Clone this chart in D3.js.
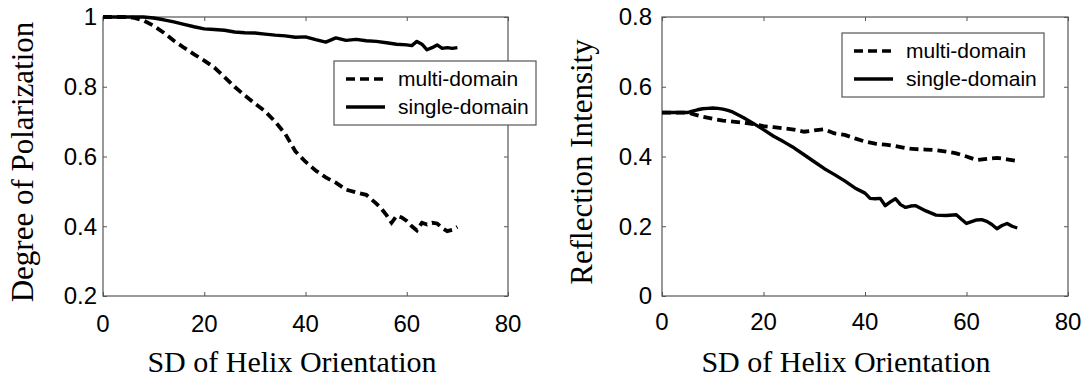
<!DOCTYPE html>
<html>
<head>
<meta charset="utf-8">
<script src="https://cdn.jsdelivr.net/npm/d3@7"></script>
<style>
  body { margin: 0; background: #fff; }
  svg { display: block; }
</style>
</head>
<body>
<div id="chart"></div>
<script>
// values

var xTicks = [0, 20, 40, 60, 80];
var seriesNames = ["multi-domain", "single-domain"];

// left panel: degree of polarization
var polYTicks = [0.2, 0.4, 0.6, 0.8, 1];
var polMultiX = [0, 2, 4, 6, 8, 10, 12, 14, 16, 18, 20, 22, 24, 26, 28, 30, 32, 34, 36, 38, 40, 42, 44, 46, 48, 50, 52, 54, 55, 56, 57, 58, 59, 60, 61, 62, 63, 64, 65, 66, 67, 68, 69, 70];
var polMultiY = [1, 1, 1, 0.998, 0.99, 0.975, 0.955, 0.932, 0.912, 0.893, 0.875, 0.855, 0.828, 0.8, 0.775, 0.752, 0.73, 0.7, 0.665, 0.615, 0.585, 0.56, 0.54, 0.525, 0.505, 0.497, 0.49, 0.465, 0.45, 0.432, 0.41, 0.43, 0.425, 0.415, 0.4, 0.388, 0.41, 0.405, 0.41, 0.408, 0.395, 0.386, 0.39, 0.398];
var polSingleX = [0, 2, 4, 6, 8, 10, 12, 14, 16, 18, 20, 22, 24, 26, 28, 30, 32, 34, 36, 38, 40, 42, 44, 46, 48, 50, 52, 54, 56, 58, 60, 61, 62, 63, 64, 65, 66, 67, 68, 69, 70];
var polSingleY = [1, 1, 1, 1, 1, 0.997, 0.992, 0.986, 0.979, 0.972, 0.966, 0.964, 0.962, 0.957, 0.955, 0.954, 0.951, 0.948, 0.946, 0.942, 0.943, 0.935, 0.928, 0.94, 0.933, 0.936, 0.932, 0.93, 0.926, 0.922, 0.92, 0.918, 0.93, 0.922, 0.906, 0.912, 0.92, 0.91, 0.912, 0.91, 0.912];

// right panel: reflection intensity
var refYTicks = [0, 0.2, 0.4, 0.6, 0.8];
var refMultiX = [0, 2, 4, 5, 6, 7, 8, 10, 12, 14, 16, 18, 20, 22, 24, 26, 28, 30, 32, 34, 36, 38, 40, 42, 44, 46, 48, 50, 52, 54, 56, 58, 60, 62, 64, 66, 68, 70];
var refMultiY = [0.526, 0.526, 0.526, 0.526, 0.522, 0.518, 0.514, 0.508, 0.503, 0.5, 0.497, 0.493, 0.487, 0.484, 0.481, 0.477, 0.471, 0.475, 0.478, 0.466, 0.462, 0.452, 0.443, 0.437, 0.434, 0.43, 0.424, 0.421, 0.42, 0.418, 0.414, 0.409, 0.4, 0.39, 0.393, 0.396, 0.392, 0.387];
var refSingleX = [0, 2, 4, 5, 6, 7, 8, 9, 10, 11, 12, 13, 14, 16, 18, 20, 22, 24, 26, 28, 30, 32, 34, 36, 38, 40, 41, 42, 43, 44, 45, 46, 47, 48, 49, 50, 52, 54, 56, 58, 59, 60, 61, 62, 63, 64, 65, 66, 67, 68, 69, 70];
var refSingleY = [0.526, 0.526, 0.526, 0.526, 0.53, 0.534, 0.537, 0.538, 0.539, 0.538, 0.536, 0.532, 0.527, 0.512, 0.495, 0.477, 0.458, 0.442, 0.425, 0.405, 0.385, 0.365, 0.348, 0.33, 0.31, 0.295, 0.28, 0.279, 0.28, 0.259, 0.27, 0.279, 0.262, 0.254, 0.258, 0.259, 0.244, 0.232, 0.231, 0.233, 0.22, 0.208, 0.213, 0.218, 0.219, 0.214, 0.205, 0.193, 0.202, 0.208, 0.2, 0.195];

var width = 1088,
    height = 381;

var svg = d3.select("#chart").append("svg")
    .attr("width", width)
    .attr("height", height);

var sansFont = "'Liberation Sans', Arial, sans-serif",
    serifFont = "'Liberation Serif', 'Times New Roman', serif",
    frameColor = "#555";

var dashStyle = "9,5";

function zip(xs, ys) {
    return xs.map(function(x, i) { return [x, ys[i]]; });
}

function drawPanel(p) {
    var x = d3.scaleLinear().domain([0, 80]).range([p.left, p.right]);
    var y = d3.scaleLinear().domain(p.yDomain).range([p.bottom, p.top]);

    var g = svg.append("g");

    // box frame
    g.append("rect")
        .attr("x", p.left)
        .attr("y", p.top)
        .attr("width", p.right - p.left)
        .attr("height", p.bottom - p.top)
        .style("fill", "none")
        .style("stroke", frameColor)
        .style("stroke-width", 1.2);

    // inward ticks on all four sides (matlab box style)
    var tickLen = 4;
    var axes = [
        d3.axisBottom(x).tickValues(xTicks).tickSize(-tickLen).tickFormat(""),
        d3.axisTop(x).tickValues(xTicks).tickSize(-tickLen).tickFormat(""),
        d3.axisLeft(y).tickValues(p.yTicks).tickSize(-tickLen).tickFormat(""),
        d3.axisRight(y).tickValues(p.yTicks).tickSize(-tickLen).tickFormat("")
    ];
    var offsets = [
        [0, p.bottom], [0, p.top], [p.left, 0], [p.right, 0]
    ];
    axes.forEach(function(ax, i) {
        var a = g.append("g")
            .attr("transform", "translate(" + offsets[i][0] + "," + offsets[i][1] + ")")
            .call(ax);
        a.select(".domain").remove();
        a.selectAll(".tick line").style("stroke", frameColor);
    });

    // tick labels
    g.selectAll(".xlab")
        .data(xTicks)
        .enter()
        .append("text")
        .attr("x", function(d) { return x(d); })
        .attr("y", p.bottom + p.xLabelDy)
        .style("text-anchor", "middle")
        .style("font", "24px " + sansFont)
        .text(function(d) { return d; });

    g.selectAll(".ylab")
        .data(p.yTicks)
        .enter()
        .append("text")
        .attr("x", p.left - p.yLabelGap)
        .attr("y", function(d) { return y(d); })
        .attr("dy", "0.35em")
        .style("text-anchor", "end")
        .style("font", "24px " + sansFont)
        .text(function(d) { return d; });

    // axis titles
    g.append("text")
        .attr("x", p.xTitleX)
        .attr("y", 372)
        .style("text-anchor", "middle")
        .style("font", "30px " + serifFont)
        .text("SD of Helix Orientation");

    g.append("text")
        .attr("transform", "translate(" + p.yTitleX + ",162) rotate(-90)")
        .style("text-anchor", "middle")
        .style("font", "31px " + serifFont)
        .text(p.yTitle);

    var line = d3.line()
        .x(function(d) { return x(d[0]); })
        .y(function(d) { return y(d[1]); });

    g.append("path")
        .datum(zip(p.singleX, p.singleY))
        .attr("d", line)
        .style("fill", "none")
        .style("stroke", "#000")
        .style("stroke-width", 3.4)
        .style("stroke-linejoin", "round");

    g.append("path")
        .datum(zip(p.multiX, p.multiY))
        .attr("d", line)
        .style("fill", "none")
        .style("stroke", "#000")
        .style("stroke-width", 3.8)
        .style("stroke-dasharray", dashStyle);

    // legend
    var lg = g.append("g")
        .attr("transform", "translate(" + p.legend[0] + "," + p.legend[1] + ")");
    lg.append("rect")
        .attr("width", 202)
        .attr("height", 64)
        .style("fill", "#fff")
        .style("stroke", frameColor)
        .style("stroke-width", 1.2);
    seriesNames.forEach(function(name, i) {
        var yy = 18 + i * 28;
        lg.append("line")
            .attr("x1", 12)
            .attr("x2", 51)
            .attr("y1", yy)
            .attr("y2", yy)
            .style("stroke", "#000")
            .style("stroke-width", 3.4)
            .style("stroke-dasharray", i === 0 ? dashStyle : null);
        lg.append("text")
            .attr("x", 64)
            .attr("y", yy)
            .attr("dy", "0.35em")
            .style("font", "21px " + sansFont)
            .text(name);
    });
}

drawPanel({
    left: 103, right: 508, top: 17, bottom: 296,
    yDomain: [0.2, 1],
    yTicks: polYTicks,
    yLabelGap: 6,
    xLabelDy: 36,
    xTitleX: 292,
    yTitle: "Degree of Polarization",
    yTitleX: 33,
    multiX: polMultiX, multiY: polMultiY,
    singleX: polSingleX, singleY: polSingleY,
    legend: [334, 61]
});

drawPanel({
    left: 662, right: 1068, top: 17, bottom: 296,
    yDomain: [0, 0.8],
    yTicks: refYTicks,
    yLabelGap: 10,
    xLabelDy: 34,
    xTitleX: 846,
    yTitle: "Reflection Intensity",
    yTitleX: 592,
    multiX: refMultiX, multiY: refMultiY,
    singleX: refSingleX, singleY: refSingleY,
    legend: [842, 33]
});
</script>
</body>
</html>
